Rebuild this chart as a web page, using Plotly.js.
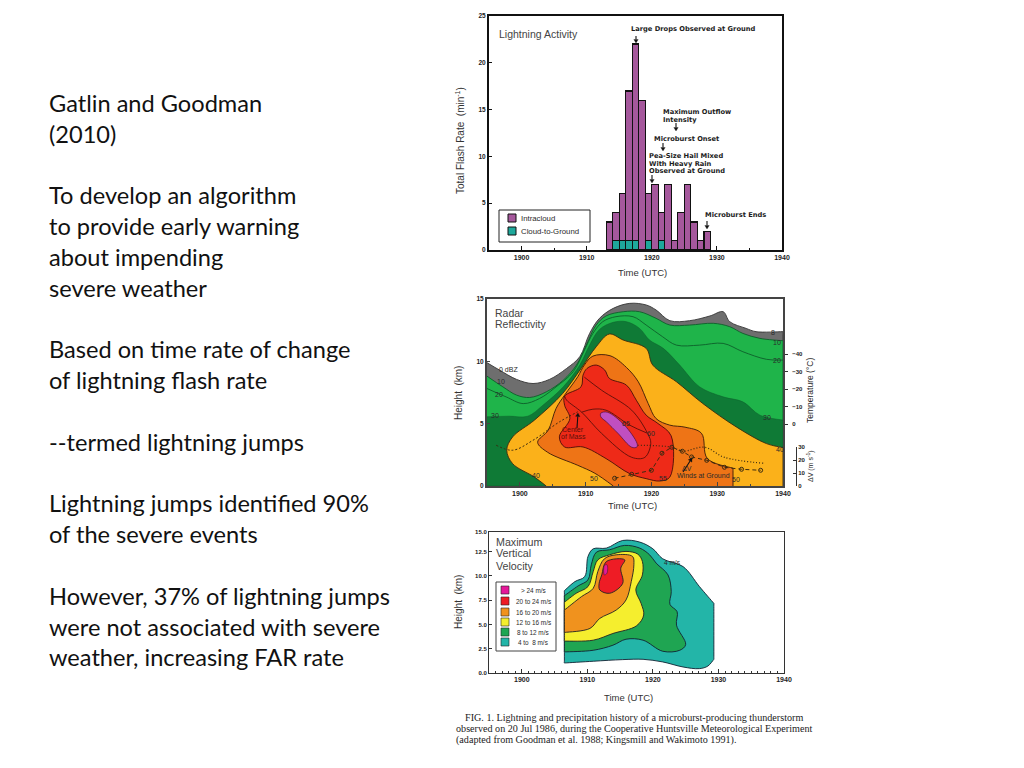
<!DOCTYPE html>
<html>
<head>
<meta charset="utf-8">
<script src="https://cdn.plot.ly/plotly-3.0.1.min.js"></script>
<style>html,body{margin:0;padding:0;background:#fff}#chart{position:absolute;left:0;top:0;width:1024px;height:768px}#chart text{font-variant-ligatures:none}</style>
</head>
<body>
<div id="chart"></div>
<script>
// ---- left text ----
const bodyLines = ["Gatlin and Goodman","(2010)","","To develop an algorithm","to provide early warning","about impending","severe weather","","Based on time rate of change","of lightning flash rate","","--termed lightning jumps","","Lightning jumps identified 90%","of the severe events","","However, 37% of lightning jumps","were not associated with severe","weather, increasing FAR rate"];
const captionLines = ["FIG. 1. Lightning and precipitation history of a microburst-producing thunderstorm","observed on 20 Jul 1986, during the Cooperative Huntsville Meteorological Experiment","(adapted from Goodman et al. 1988; Kingsmill and Wakimoto 1991)."];

// ---- panel 1: flash rate ----
const minuteStart = [1913,1914,1915,1916,1917,1918,1919,1920,1921,1922,1923,1924,1925,1926,1927,1928];
const totalFlash  = [3,4,6,17,22,16,6,7,4,7,1,4,7,3,1,2];
const cloudGround = [0,1,1,1,1,0,1,0,1,0,0,0,0,0,0,0];

// ---- panel 2: radar reflectivity contours (time, km) ----
const dbz0T=[1895,1896.9,1899.5,1902,1904.5,1907.1,1909.1,1910.6,1912.1,1914.2,1916.7,1919.2,1920.7,1922.8,1925.8,1928.9,1930.9,1931.9,1934.4,1935.9,1940,1940,1895];
const dbz0H=[9.89,9.3,8.55,8.22,8.55,9.43,10.37,12.24,13.45,14.25,14.65,14.52,14.12,13.26,13.26,13.64,13.98,13.18,12.64,12.38,12.38,0,0];
const dbz10T=[1895,1897.4,1899.5,1901.5,1904,1906.6,1908.6,1910.1,1911.6,1913.1,1915.7,1918.2,1920.7,1922.8,1925.8,1929.4,1931.9,1933.9,1936.5,1940,1940,1895];
const dbz10H=[8.81,7.96,7.29,7.1,7.55,8.49,9.7,11.31,12.91,13.64,13.98,13.98,13.45,12.91,12.91,13.05,12.78,12.24,11.84,11.65,0,0];
const dbz20T=[1895,1897.9,1900.5,1903,1905.5,1908.1,1909.8,1911.1,1912.6,1914.6,1917.2,1919.2,1921.7,1923.8,1927.3,1930.9,1933.9,1937.5,1940];
const dbz20H=[7.82,7.15,6.61,7.02,7.95,9.16,10.88,12.24,13.18,13.58,13.58,12.91,11.97,11.3,11.3,11.44,10.77,10.16,10.1];
const dbz30T=[1895,1898.4,1901.2,1903.5,1906.6,1909.1,1910.6,1912.1,1914.2,1916.2,1918.2,1919.7,1921.8,1924.3,1927.3,1930.9,1933.9,1936.5,1940,1940,1895];
const dbz30H=[5.55,5.6,5.6,6.48,7.96,9.7,11.31,12.56,13.13,13.18,12.64,11.71,11.04,9.7,7.96,7.15,6.75,5.68,5.28,0,0];
const dbz40T=[1904,1902.2,1898.9,1898,1898.9,1902.2,1906.5,1909.3,1911.6,1913.6,1915.7,1919.2,1920.2,1923.8,1927.8,1932.9,1937.5,1940,1940];
const dbz40H=[0,0.72,1.79,2.87,3.94,5.28,7.42,9.43,11.17,12.19,11.71,11.04,9.7,8.36,6.62,4.74,3.4,3.08,0];
const dbz50T=[1914.2,1911.4,1908.8,1904.2,1902.7,1904.3,1905.5,1906.8,1908.8,1909.8,1911.1,1913.7,1916.2,1918,1919.5,1920.7,1922.8,1925.1,1927.6,1928.5,1932.4,1932.4];
const dbz50H=[0,1.02,1.66,2.71,3.51,4.47,6.22,7.29,8.76,9.7,10.42,10.45,9.51,8.36,6.62,5.41,4.88,4.72,4.23,2.2,1.42,0];
const dbz55T=[1909.6,1910.2,1911.6,1912.9,1913.6,1916.2,1917.7,1919.2,1921,1923,1922.8,1921.3,1919.2,1916.7,1913.1,1909.6,1906.8,1906,1907.6,1906.8,1906.8,1909.3,1909.6];
const dbz55H=[8.89,9.43,9.7,9.3,8.63,8.09,6.88,5.68,5.01,4.02,0.72,0.4,0.59,0.99,2.2,3.13,3.13,3.94,5.41,6.48,7.21,7.96,8.89];
const dbz60T=[1909.8,1912.4,1917,1919.4,1919.9,1919,1917,1912.4,1909.4,1907.1,1906.8];
const dbz60H=[8.73,7.69,6.08,4.23,3.43,2.3,2.3,4.23,5.92,6.89,7.21];
const dbz62T=[1909.4,1911.1,1913.1,1916.7,1919.4];
const dbz62H=[5.92,6.16,6.08,4.88,4.23];
const dbz65T=[1912.3,1913.3,1915.9,1917.8,1917.8,1917,1914.9,1913.2,1912.3,1912.3];
const dbz65H=[5.84,5.92,4.88,3.43,3.13,3.11,4.23,5.12,5.55,5.84];
const massT=[1896.4,1898.9,1902,1906,1908.8];
const massH=[3.27,2.87,3.67,5.14,5.95];
const massBT=[1917.9,1923.1,1924.7,1928.1,1931.1,1937.2];
const massBH=[3.27,3.11,2.79,3.11,2.3,1.82];
const windT=[1914.4,1917,1920,1921.6,1923.1,1924.7,1926.1,1928.4,1931.1,1933.7,1936.6];
const windH=[0.62,0.94,1.26,2.63,3.11,2.79,2.33,2.06,1.5,1.34,1.26];
const tempTicks=[0,-10,-20,-30,-40];
const deltaVTicks=[0,10,20,30];

// ---- panel 3: maximum vertical velocity contours (time, km) ----
const w4T=[1906.5,1910.9,1915.4,1918.5,1921.5,1924.6,1927.1,1928.4,1929.3,1929.3,1927.1,1924.6,1921.5,1920,1918,1915.4,1912.9,1910.9,1910.1,1909.6,1908.1,1906.5,1906.5];
const w4H=[1.03,1.21,1.38,1.41,1.14,0.62,0.45,0.72,1.41,7.17,8.9,10.96,11.76,12.79,13.48,13.65,12.86,12.79,12,9.93,9.41,8.48,1.03];
const w8T=[1906.5,1910.9,1913.9,1915.9,1918.5,1921.5,1924.1,1925,1923.6,1923.7,1922.6,1922.8,1922.3,1920.5,1919.5,1918,1915.7,1913.4,1911.4,1910.6,1910.1,1908.6,1906.5,1906.5];
const w8H=[2.17,2.34,2.86,3.48,3.38,2.24,2.34,2.93,4.93,6.31,7.07,8.38,10.1,11.31,12.17,12.86,13.14,12.69,12.45,11.14,9.59,8.97,7.96,2.17];
const w12T=[1906.5,1910.9,1913.9,1917.5,1918.6,1918.2,1917.4,1918.4,1918.4,1917.7,1915.9,1913.4,1911.6,1910.9,1910.1,1908.3,1906.5,1906.5];
const w12H=[3.28,3.38,4.07,4.86,5.97,7.17,8.55,10.1,11.48,12.24,12.52,12.17,11.65,10.45,8.9,8.21,7.28,3.28];
const w16T=[1906.5,1910.4,1911.9,1914.4,1915.9,1916.7,1917.1,1916.9,1914.4,1912.6,1911.6,1910.9,1909.1,1906.5,1906.5];
const w16H=[4.17,4.59,5.62,6.48,7.52,9.41,11.14,12,12.17,11.76,10.45,8.72,7.86,6.48,4.17];
const w20T=[1911.9,1913.4,1915.4,1915.1,1915.7,1912.9,1912.2,1911.8,1911.9];
const w20H=[8.55,8.21,9.24,10.79,11.65,11.48,10.1,9.24,8.55];
const w24T=[1912.6,1913,1913,1912.6,1912.6];
const w24H=[11.07,11.14,10.28,10.1,11.07];
const velLabels=["> 24 m/s","20 to 24 m/s","16 to 20 m/s","12 to 16 m/s","8 to 12 m/s","4 to  8 m/s"];
const velColors=["#e5189a","#ee1c25","#f0921e","#f5ee2e","#1fa552","#23b5a8"];

// ---- helpers: page pixel to paper fraction ----
const W=1024,H=768;
const fx=p=>p/W, fy=p=>1-p/H;
const SANS='"Liberation Sans", Arial, sans-serif';
const WIDE='"DejaVu Sans", sans-serif';
const ink='#2a2a2a';

function txt(x,y,text,size,opt){
  return Object.assign({xref:'paper',yref:'paper',x:fx(x),y:fy(y),text:text,showarrow:false,xanchor:'left',yanchor:'middle',
    font:{family:SANS,size:size,color:ink},borderpad:0,borderwidth:0},opt||{});
}
function note(x,y,text){ return txt(x,y,text,6.7,{font:{family:WIDE,size:6.7,color:'#1c1c1c',weight:700}}); }
// keeps a vertex sharp on a spline outline by setting near points beside it
function sharpen(t,h,corners){
  const xs=[],ys=[],k=0.03,n=t.length;
  t.forEach((v,i)=>{
    const hit=corners && corners.includes(i);
    if(hit && i>0){ xs.push(v+k*(t[i-1]-v)); ys.push(h[i]+k*(h[i-1]-h[i])); }
    xs.push(v); ys.push(h[i]);
    if(hit && i<n-1){ xs.push(v+k*(t[i+1]-v)); ys.push(h[i]+k*(h[i+1]-h[i])); }
  });
  return [xs,ys];
}
function poly(t,h,color,xa,ya,lc,lw,corners){
  const p=sharpen(t,h,corners);
  return {x:p[0],y:p[1],xaxis:xa,yaxis:ya,mode:'lines',fill:'toself',fillcolor:color,line:{color:lc||'#1a1a1a',width:lw===undefined?0.9:lw,shape:'spline',smoothing:1,simplify:false},hoverinfo:'skip',showlegend:false};
}
function line(t,h,color,xa,ya,dash,width,mode){
  return {x:t,y:h,xaxis:xa,yaxis:ya,mode:mode||'lines',line:{color:color,width:width||0.9,dash:dash||'solid',shape:mode?'linear':'spline',smoothing:1},marker:{symbol:'circle-open',size:4,color:color},hoverinfo:'skip',showlegend:false};
}

const intracloud=totalFlash.map((v,i)=>v-cloudGround[i]);
const barX=minuteStart.map(v=>v+0.5);

const traces=[
  {type:'bar',x:barX,y:cloudGround,width:1,xaxis:'x',yaxis:'y',name:'Cloud-to-Ground',marker:{color:'#1ea89b',line:{color:'#111',width:1.3}},showlegend:false},
  {type:'bar',x:barX,y:intracloud,width:1,xaxis:'x',yaxis:'y',name:'Intracloud',marker:{color:'#a5589c',line:{color:'#111',width:1.3}},showlegend:false},

  poly(dbz0T,dbz0H,'#6e6e6e','x2','y2','#333',0.9,[20,21]),
  poly(dbz10T,dbz10H,'#1fb44a','x2','y2','#0d5f2a',0.9,[19,20]),
  line(dbz20T,dbz20H,'#0d5f2a','x2','y2'),
  poly(dbz30T,dbz30H,'#0f7a36','x2','y2','#0d5f2a',0.5,[18,19]),
  poly(dbz40T,dbz40H,'#fbb11a','x2','y2','#3a2a10',0.9,[17]),
  poly(dbz50T,dbz50H,'#ee7416','x2','y2','#3a1a08',0.9,[20]),
  poly(dbz55T,dbz55H,'#ee2a18','x2','y2','#4a0d08',0.9),
  line(dbz60T,dbz60H,'#5a100a','x2','y2'),
  line(dbz62T,dbz62H,'#5a100a','x2','y2'),
  poly(dbz65T,dbz65H,'#c04fc0','x2','y2','#4a1040',0.7),
  line(massT,massH,'#3a2a10','x2','y2','2px,2px',1),
  line(massBT,massBH,'#3a2a10','x2','y2','1px,2px',1.2),
  line(windT,windH,'#3a2a10','x2','y2','4px,3px',1,'lines+markers'),

  {x:tempTicks.map(()=>1940),y:tempTicks,xaxis:'x2',yaxis:'y4',mode:'markers',marker:{opacity:0},hoverinfo:'skip',showlegend:false},
  {x:deltaVTicks.map(()=>1940),y:deltaVTicks,xaxis:'x2',yaxis:'y5',mode:'markers',marker:{opacity:0},hoverinfo:'skip',showlegend:false},

  poly(w4T,w4H,'#23b5a8','x3','y3','#123',0.9,[0,8,9,21,22]),
  poly(w8T,w8H,'#1fa552','x3','y3','#123',0.9,[0,22,23]),
  poly(w12T,w12H,'#f5ee2e','x3','y3','#222',0.9,[0,16,17]),
  poly(w16T,w16H,'#f0921e','x3','y3','#222',0.9,[0,13,14]),
  poly(w20T,w20H,'#ee1c25','x3','y3','#222',0.9),
  poly(w24T,w24H,'#e5189a','x3','y3','#222',0.5)
];

const ann=[];
bodyLines.forEach((t,i)=>{ if(t) ann.push({xref:'paper',yref:'paper',x:fx(47),y:fy(103+30.8*i),text:t,showarrow:false,xanchor:'left',yanchor:'middle',font:{family:'Lato, sans-serif',size:23.6,color:'#111'}}); });
// caption
const captionX=[463,454,454], captionY=[717,728,740];
captionLines.forEach((t,i)=>ann.push({xref:'paper',yref:'paper',x:fx(captionX[i]),y:fy(captionY[i]),text:t,showarrow:false,xanchor:'left',yanchor:'middle',font:{family:'"Liberation Serif", serif',size:10.15,color:'#222'}}));

// panel 1 notes
const lab=(x,y,s,size)=>txt(x,y,s,size,{font:{family:SANS,size:size,color:'#444'}});
ann.push(lab(499,34,'Lightning Activity',10.5));
ann.push(note(631,29,'Large Drops Observed at Ground'));
ann.push(note(663,112,'Maximum Outflow'));
ann.push(note(663,119.5,'Intensity'));
ann.push(note(654,139,'Microburst Onset'));
ann.push(note(649,156.5,'Pea-Size Hail Mixed'));
ann.push(note(649,163.5,'With Heavy Rain'));
ann.push(note(649,170.5,'Observed at Ground'));
ann.push(note(705,215,'Microburst Ends'));
ann.push(txt(521,218,'Intracloud',7.8));
ann.push(txt(521,231,'Cloud-to-Ground',7.8));
ann.push(txt(460,141,'Total Flash Rate  (min<sup>-1</sup>)',10,{xanchor:'center',textangle:-90,font:{family:SANS,size:10,color:'#333'}}));
ann.push(txt(642,272,'Time (UTC)',9.5,{xanchor:'center',font:{family:SANS,size:9.5,color:'#333'}}));

// panel 2 notes
ann.push(lab(495,313,'Radar',10.5));
ann.push(lab(495,324,'Reflectivity',10.5));
[[499,370,'0 dBZ'],[497,382,'10'],[495,394,'20'],[491,415,'30'],[532,475,'40'],[590,478,'50'],[659,478,'55'],[732,479,'50'],[771,332,'8'],[773,342,'10'],[773,360,'20'],[763,417,'30'],[776,449,'40'],[647,433,'60'],[622,423,'65']].forEach(a=>ann.push(txt(a[0],a[1],a[2],7)));
ann.push(txt(573,429,'Center',7,{xanchor:'center',font:{family:SANS,size:7,color:'#5a100a'}}));
ann.push(txt(573,436.5,'of Mass',7,{xanchor:'center',font:{family:SANS,size:7,color:'#5a100a'}}));
ann.push(txt(682,468,'ΔV',7));
ann.push(txt(703,475,'Winds at Ground',7,{xanchor:'center'}));
ann.push(txt(810,391,'Temperature (°C)',8.5,{xanchor:'center',textangle:-90}));
ann.push(txt(810,466,'ΔV (m s<sup>-1</sup>)',7,{xanchor:'center',textangle:-90}));
ann.push(txt(458,393,'Height  (km)',10,{xanchor:'center',textangle:-90,font:{family:SANS,size:10,color:'#333'}}));
ann.push(txt(632,505,'Time (UTC)',9.5,{xanchor:'center',font:{family:SANS,size:9.5,color:'#333'}}));

// panel 3 notes
['Maximum','Vertical','Velocity'].forEach((s,i)=>ann.push(lab(496,[542,553,566][i],s,10.7)));
const velY=[590,601,612,622,632,642];
velLabels.forEach((s,i)=>ann.push(txt(533,velY[i],s,6.4,{xanchor:'center'})));
ann.push(txt(664,562,'4 m/s',6.5,{}));
ann.push(txt(458,602,'Height  (km)',10,{xanchor:'center',textangle:-90,font:{family:SANS,size:10,color:'#333'}}));
ann.push(txt(628,697,'Time (UTC)',9.5,{xanchor:'center',font:{family:SANS,size:9.5,color:'#333'}}));

// legend boxes, swatches and arrows
const sh=[];
function rect(x0,y0,x1,y1,fill,lc,lw){ sh.push({type:'rect',xref:'paper',yref:'paper',x0:fx(x0),x1:fx(x1),y0:fy(y0),y1:fy(y1),fillcolor:fill,line:{color:lc,width:lw},layer:'above'}); }
function arrowShape(x0,y0,x1,y1){
  const d=Math.hypot(x1-x0,y1-y0), ux=(x1-x0)/d, uy=(y1-y0)/d, hl=3.5, hw=2.2;
  const bx=x1-ux*hl, by=y1-uy*hl;
  sh.push({type:'line',xref:'paper',yref:'paper',x0:fx(x0),y0:fy(y0),x1:fx(bx),y1:fy(by),line:{color:'#111',width:1.1}});
  sh.push({type:'path',xref:'paper',yref:'paper',path:`M${fx(x1)},${fy(y1)} L${fx(bx-uy*hw)},${fy(by+ux*hw)} L${fx(bx+uy*hw)},${fy(by-ux*hw)} Z`,fillcolor:'#111',line:{color:'#111',width:0.3}});
}
rect(499,210,590,242,'#fff','#222',1);
rect(508,214,516,222,'#a5589c','#111',1);
rect(508,227,516,235,'#1ea89b','#111',1);
rect(496,582,556,651,'#fff','#444',1);
velColors.forEach((c,i)=>rect(501,velY[i]-4,509,velY[i]+4,c,'#222',0.6));
arrowShape(636,36,636,43);
arrowShape(676,123,676,131);
arrowShape(663,143,663,151);
arrowShape(652,175,652,183);
arrowShape(707,221,707,229);
arrowShape(577,428,578,413);
arrowShape(683,472,692,458);

const tickF=(s)=>({family:SANS,size:s||7,color:'#222',weight:700});
function xAxis(anchor,left,right,frame,width,minor){
  return {domain:[fx(left),fx(right)],range:[1895,1940],anchor:anchor,tick0:1900,dtick:10,ticks:'inside',ticklen:4,tickcolor:frame,tickwidth:1,
    minor:{ticks:'inside',dtick:minor,ticklen:2,tickcolor:frame,tickwidth:1,showgrid:false},
    showgrid:false,zeroline:false,showline:true,linecolor:frame,linewidth:width,mirror:true,tickfont:tickF(7),layer:'above traces'};
}
function yAxis(anchor,top,bottom,range,frame,width,extra){
  return Object.assign({domain:[fy(bottom),fy(top)],range:range,anchor:anchor,ticks:'inside',ticklen:3,tickcolor:frame,showgrid:false,zeroline:false,showline:true,linecolor:frame,linewidth:width,mirror:true,tickfont:tickF(6.5),layer:'above traces'},extra||{});
}

const layout={
  width:W,height:H,margin:{l:0,r:0,t:0,b:0,pad:0},paper_bgcolor:'#fff',plot_bgcolor:'rgba(0,0,0,0)',showlegend:false,barmode:'stack',bargap:0,
  xaxis:xAxis('y',489,782,'#111',2,5),
  yaxis:yAxis('x',16,250,[0,25],'#111',2,{dtick:5}),
  xaxis2:xAxis('y2',487,783,'#444',2,5),
  yaxis2:yAxis('x2',299,486,[0,15],'#444',2,{dtick:5}),
  xaxis3:xAxis('y3',489,784,'#333',1,1),
  yaxis3:yAxis('x3',532,673,[0,14.52],'#333',1,{tickvals:[0,2.5,5,7.5,10,12.5,14.52],ticktext:['0.0','2.5','5.0','7.5','10.0','12.5','15.0'],tickfont:tickF(6)}),
  yaxis4:{domain:[fy(424),fy(354)],range:[0,-40],dtick:10,anchor:'free',position:fx(784),side:'right',ticks:'outside',ticklen:3,ticklabelstandoff:3,tickcolor:'#333',showgrid:false,zeroline:false,showline:false,tickfont:tickF(6)},
  yaxis5:{domain:[fy(486),fy(447)],range:[0,30],dtick:10,anchor:'free',position:fx(796),side:'right',ticks:'inside',ticklen:3,tickcolor:'#333',showgrid:false,zeroline:false,showline:true,linecolor:'#333',linewidth:1,tickfont:tickF(6)},
  annotations:ann,shapes:sh
};
Plotly.newPlot('chart',traces,layout,{displayModeBar:false,responsive:false,staticPlot:true});
</script>
</body>
</html>
